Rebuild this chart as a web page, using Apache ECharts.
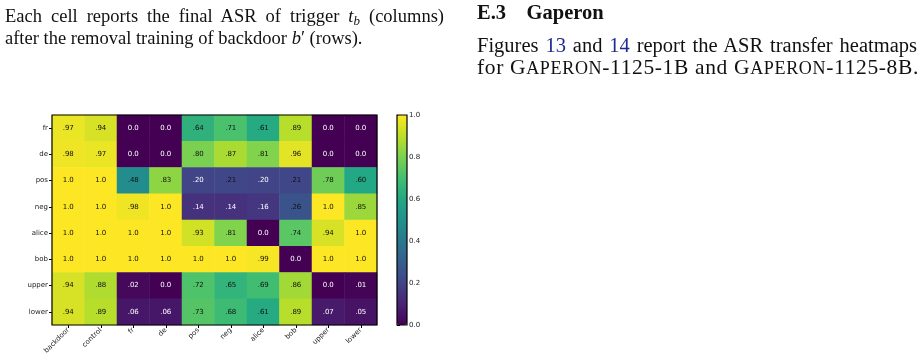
<!DOCTYPE html>
<html>
<head>
<meta charset="utf-8">
<script src="https://cdn.jsdelivr.net/npm/echarts@6/dist/echarts.min.js"></script>
<style>
html,body{margin:0;padding:0;background:#fff;}
#wrap{position:relative;width:923px;height:360px;overflow:hidden;}
#chart{position:absolute;left:0;top:0;width:923px;height:360px;}
.t{position:absolute;font-family:"Liberation Serif","DejaVu Serif",serif;font-size:18.5px;color:#111;white-space:nowrap;line-height:22px;}
.r{font-size:20.5px;}
.r2{font-size:21.5px;}
.sc{font-size:0.84em;}
.ref{color:#1f2b8f;}
sub{font-size:0.7em;vertical-align:-0.25em;line-height:0;}
</style>
</head>
<body>
<div id="wrap">
<div id="chart"></div>
<div class="t fit" data-w="439" data-mode="word" style="left:5px;top:5px;">Each cell reports the final ASR of trigger <i>t</i><sub><i>b</i></sub> (columns)</div>
<div class="t" style="left:5px;top:27px;">after the removal training of backdoor <i>b</i>′ (rows).</div>
<div class="t r" style="left:477px;top:1px;font-weight:bold;">E.3&nbsp;&nbsp;&nbsp;&nbsp;Gaperon</div>
<div class="t r fit" data-w="440" data-mode="word" style="left:477px;top:34px;">Figures <span class="ref">13</span> and <span class="ref">14</span> report the ASR transfer heatmaps</div>
<div class="t r2 fit" data-w="442" data-mode="letter" style="left:477px;top:56px;">for G<span class="sc">APERON</span>-1125-1B and G<span class="sc">APERON</span>-1125-8B.</div>
</div>
<script>
// fit justified text lines to their column width
Array.prototype.forEach.call(document.querySelectorAll('.fit'), function(el){
  var target = +el.getAttribute('data-w');
  var w = el.getBoundingClientRect().width;
  var txt = el.textContent;
  if (el.getAttribute('data-mode') === 'word') {
    var spaces = (txt.match(/ /g) || []).length;
    el.style.wordSpacing = ((target - w) / spaces) + 'px';
  } else {
    el.style.letterSpacing = ((target - w) / txt.length) + 'px';
  }
});

var columns = ['backdoor','control','fr','de','pos','neg','alice','bob','upper','lower'];
var rows = ['fr','de','pos','neg','alice','bob','upper','lower'];
var row_fr    = [0.97,0.94,0.00,0.00,0.64,0.71,0.61,0.89,0.00,0.00];
var row_de    = [0.98,0.97,0.00,0.00,0.80,0.87,0.81,0.96,0.00,0.00];
var row_pos   = [1.00,1.00,0.48,0.83,0.20,0.21,0.20,0.21,0.78,0.60];
var row_neg   = [1.00,1.00,0.98,1.00,0.14,0.14,0.16,0.26,1.00,0.85];
var row_alice = [1.00,1.00,1.00,1.00,0.93,0.81,0.00,0.74,0.94,1.00];
var row_bob   = [1.00,1.00,1.00,1.00,1.00,1.00,0.99,0.00,1.00,1.00];
var row_upper = [0.94,0.88,0.02,0.00,0.72,0.65,0.69,0.86,0.00,0.01];
var row_lower = [0.94,0.89,0.06,0.06,0.73,0.68,0.61,0.89,0.07,0.05];
var matrix = [row_fr,row_de,row_pos,row_neg,row_alice,row_bob,row_upper,row_lower];
var colorbarTicks = [0.0,0.2,0.4,0.6,0.8,1.0];

var viridis = ['#440154','#482475','#414487','#355f8d','#2a788e','#21918c','#22a884','#44bf70','#7ad151','#bddf26','#fde725'];

function fmt(v){
  if (v >= 0.995) return '1.0';
  if (v < 0.005) return '0.0';
  return v.toFixed(2).replace(/^0/, '');
}

var data = [];
for (var r = 0; r < rows.length; r++) {
  for (var c = 0; c < columns.length; c++) {
    var v = matrix[r][c];
    data.push({value:[c, r, v], label:{color: v <= 0.205 ? '#ffffff' : '#111111'}});
  }
}

var G = {left:52, top:115, width:325, height:210};
var CB = {left:397, top:115, width:10, height:210};
var font = 'DejaVu Sans, sans-serif';

var chart = echarts.init(document.getElementById('chart'), null, {renderer:'canvas'});
chart.setOption({
  animation:false,
  backgroundColor:'transparent',
  grid:[
    {left:G.left, top:G.top, width:G.width, height:G.height},
    {left:CB.left, top:CB.top, width:CB.width, height:CB.height}
  ],
  xAxis:[
    {type:'category', gridIndex:0, data:columns,
     axisLine:{show:false}, splitArea:{show:false},
     axisTick:{show:true, alignWithLabel:true, length:3, lineStyle:{color:'#000'}},
     axisLabel:{rotate:45, fontSize:7, fontFamily:font, color:'#222', margin:4, interval:0}},
    {type:'value', gridIndex:1, show:false, min:0, max:1}
  ],
  yAxis:[
    {type:'category', gridIndex:0, data:rows, inverse:true,
     axisLine:{show:false},
     axisTick:{show:true, alignWithLabel:true, length:3, lineStyle:{color:'#000'}},
     axisLabel:{fontSize:7, fontFamily:font, color:'#222', margin:4, interval:0}},
    {type:'value', gridIndex:1, min:colorbarTicks[0], max:colorbarTicks[colorbarTicks.length-1], interval:0.2,
     position:'right', splitLine:{show:false}, axisLine:{show:false},
     axisTick:{show:true, length:3, lineStyle:{color:'#000'}},
     axisLabel:{fontSize:7, fontFamily:font, color:'#222', margin:2, formatter:function(v){return v.toFixed(1);}}}
  ],
  visualMap:{
    type:'continuous', min:0, max:1, calculable:false, orient:'vertical',
    left:CB.left, top:CB.top, itemWidth:CB.width, itemHeight:CB.height,
    padding:0, text:null, showLabel:false, hoverLink:false,
    inRange:{color:viridis}, seriesIndex:0
  },
  series:[
    {type:'heatmap', xAxisIndex:0, yAxisIndex:0, data:data,
     label:{show:true, fontSize:7, fontFamily:font, formatter:function(p){return fmt(p.value[2]);}},
     itemStyle:{borderWidth:0},
     emphasis:{disabled:true}},
    {type:'line', xAxisIndex:1, yAxisIndex:1, data:[], silent:true}
  ],
  graphic:[
    {type:'rect', z:100, silent:true, shape:{x:G.left, y:G.top, width:G.width, height:G.height},
     style:{fill:null, stroke:'#000', lineWidth:1.2}},
    {type:'rect', z:100, silent:true, shape:{x:CB.left, y:CB.top, width:CB.width, height:CB.height},
     style:{fill:null, stroke:'#000', lineWidth:1.2}}
  ]
});
</script>
</body>
</html>
